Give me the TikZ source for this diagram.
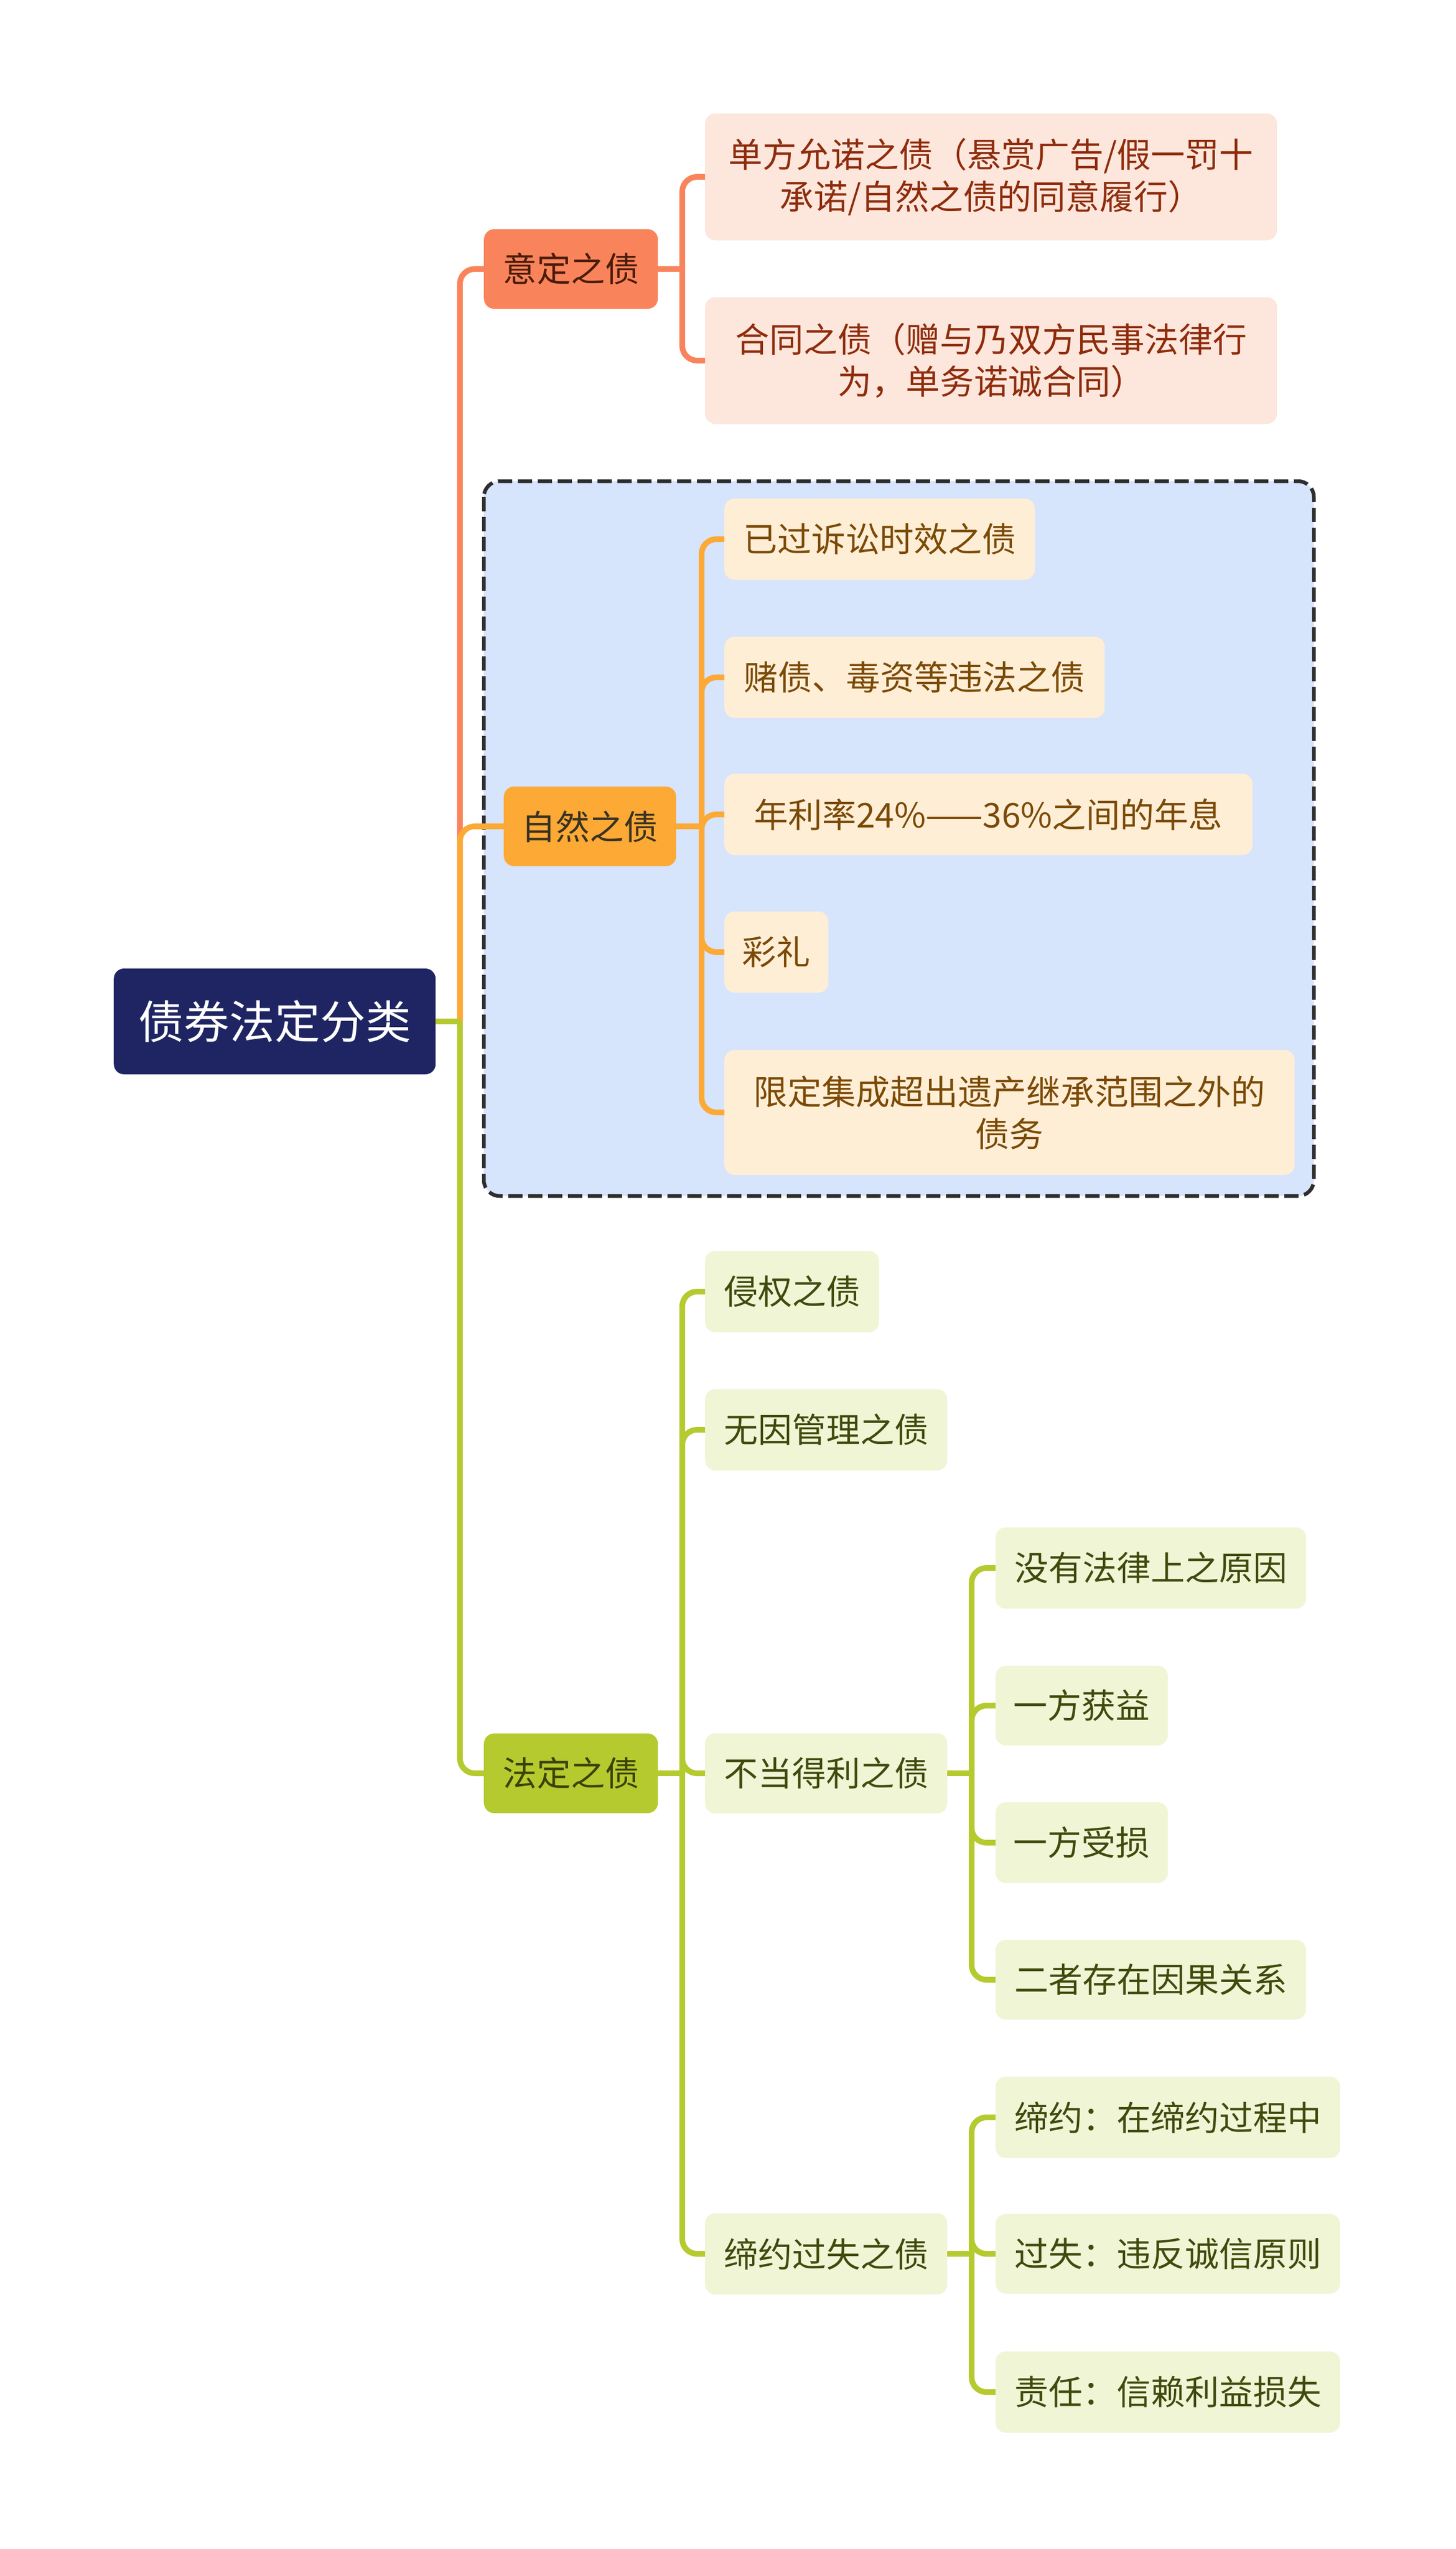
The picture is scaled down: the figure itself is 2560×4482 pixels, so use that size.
\documentclass[tikz,border=0pt]{standalone}
\usepackage{fontspec}
\newfontfamily\cjk{Noto Sans CJK SC}
\definecolor{rootc}{HTML}{1F2563}
\definecolor{yaf}{HTML}{F9845B}
\definecolor{yat}{HTML}{4A1C0A}
\definecolor{yacf}{HTML}{FDE6DC}
\definecolor{yact}{HTML}{8E2C0C}
\definecolor{zrf}{HTML}{FCA935}
\definecolor{zrt}{HTML}{3A3222}
\definecolor{zrcf}{HTML}{FFEED6}
\definecolor{zrct}{HTML}{7B4A06}
\definecolor{fdf}{HTML}{B5CA2E}
\definecolor{fdt}{HTML}{3A4208}
\definecolor{fdcf}{HTML}{F0F5D6}
\definecolor{fdct}{HTML}{3F4A0C}
\definecolor{bluebg}{HTML}{D6E4FC}
\definecolor{dashc}{HTML}{2E2E2E}
\begin{document}
\begin{tikzpicture}[x=1pt,y=-1pt,
  box/.style={anchor=west, rounded corners=18pt, inner sep=0pt, align=center,
    font={\cjk\fontsize{60}{74}\selectfont}},
  rootbox/.style={box, fill=rootc, text=white, font={\cjk\fontsize{80}{96}\selectfont}},
  yabox/.style={box, fill=yaf, text=yat},
  yachild/.style={box, fill=yacf, text=yact},
  zrbox/.style={box, fill=zrf, text=zrt},
  zrchild/.style={box, fill=zrcf, text=zrct},
  fdbox/.style={box, fill=fdf, text=fdt},
  fdchild/.style={box, fill=fdcf, text=fdct},
  con/.style={line width=10pt, rounded corners=26pt},
  stub/.style={line width=10pt}
]
\useasboundingbox (0,0) rectangle (2560,4482);
\fill[white] (0,0) rectangle (2560,4482);

% dashed frame
\draw[fill=bluebg, draw=dashc, line width=6.5pt, dash pattern=on 25pt off 10pt, rounded corners=28pt]
  (851,846) rectangle (2311,2103);

% nodes
\node[rootbox, minimum width=566pt, minimum height=186pt] (root) at (200,1796) {债券法定分类};

\node[yabox, minimum width=306pt, minimum height=140pt] (ya) at (851,473) {意定之债};
\node[zrbox, minimum width=303pt, minimum height=140pt] (zr) at (886,1453) {自然之债};
\node[fdbox, minimum width=306pt, minimum height=140pt] (fd) at (851,3118) {法定之债};

\node[yachild, minimum width=1006pt, minimum height=223pt] (a1) at (1240,311) {单方允诺之债（悬赏广告/假一罚十\\承诺/自然之债的同意履行）};
\node[yachild, minimum width=1006pt, minimum height=223pt] (a2) at (1240,634) {合同之债（赠与乃双方民事法律行\\为，单务诺诚合同）};

\node[zrchild, minimum width=546pt, minimum height=143pt] (b1) at (1274,948) {已过诉讼时效之债};
\node[zrchild, minimum width=669pt, minimum height=143pt] (b2) at (1274,1191) {赌债、毒资等违法之债};
\node[zrchild, minimum width=929pt, minimum height=143pt] (b3) at (1274,1432) {年利率24\%——36\%之间的年息};
\node[zrchild, minimum width=183pt, minimum height=143pt] (b4) at (1274,1674) {彩礼};
\node[zrchild, minimum width=1003pt, minimum height=220pt] (b5) at (1274,1956) {限定集成超出遗产继承范围之外的\\债务};

\node[fdchild, minimum width=306pt, minimum height=143pt] (c1) at (1240,2271) {侵权之债};
\node[fdchild, minimum width=426pt, minimum height=143pt] (c2) at (1240,2514) {无因管理之债};
\node[fdchild, minimum width=426pt, minimum height=141pt] (c3) at (1240,3118) {不当得利之债};
\node[fdchild, minimum width=426pt, minimum height=143pt] (c4) at (1240,3963) {缔约过失之债};

\node[fdchild, minimum width=546pt, minimum height=143pt] (d1) at (1751,2757) {没有法律上之原因};
\node[fdchild, minimum width=303pt, minimum height=140pt] (d2) at (1751,2999) {一方获益};
\node[fdchild, minimum width=303pt, minimum height=142pt] (d3) at (1751,3240) {一方受损};
\node[fdchild, minimum width=546pt, minimum height=140pt] (d4) at (1751,3481) {二者存在因果关系};

\node[fdchild, minimum width=606pt, minimum height=143pt] (e1) at (1751,3723) {缔约：在缔约过程中};
\node[fdchild, minimum width=606pt, minimum height=140pt] (e2) at (1751,3963) {过失：违反诚信原则};
\node[fdchild, minimum width=606pt, minimum height=143pt] (e3) at (1751,4206) {责任：信赖利益损失};

% junction coordinates
\coordinate (j0) at (809,1796);
\coordinate (jya) at (1200,473);
\coordinate (jzr) at (1234,1453);
\coordinate (jfd) at (1200,3118);
\coordinate (jc3) at (1709,3118);
\coordinate (jc4) at (1709,3963);

% root branches
\draw[con, yaf] (j0) |- (ya.west);
\draw[con, zrf] (j0) |- (zr.west);
\draw[con, fdf] (j0) |- (fd.west);
\draw[stub, fdf] (root.east) -- (j0);

% 意定之债
\draw[stub, yaf] (ya.east) -- (jya);
\draw[con, yaf] (jya) |- (a1.west);
\draw[con, yaf] (jya) |- (a2.west);

% 自然之债
\draw[stub, zrf] (zr.east) -- (jzr);
\foreach \n in {b1,b2,b3,b4,b5} \draw[con, zrf] (jzr) |- (\n.west);

% 法定之债
\draw[stub, fdf] (fd.east) -- (jfd);
\foreach \n in {c1,c2,c3,c4} \draw[con, fdf] (jfd) |- (\n.west);

\draw[stub, fdf] (c3.east) -- (jc3);
\foreach \n in {d1,d2,d3,d4} \draw[con, fdf] (jc3) |- (\n.west);

\draw[stub, fdf] (c4.east) -- (jc4);
\foreach \n in {e1,e2,e3} \draw[con, fdf] (jc4) |- (\n.west);
\end{tikzpicture}
\end{document}
